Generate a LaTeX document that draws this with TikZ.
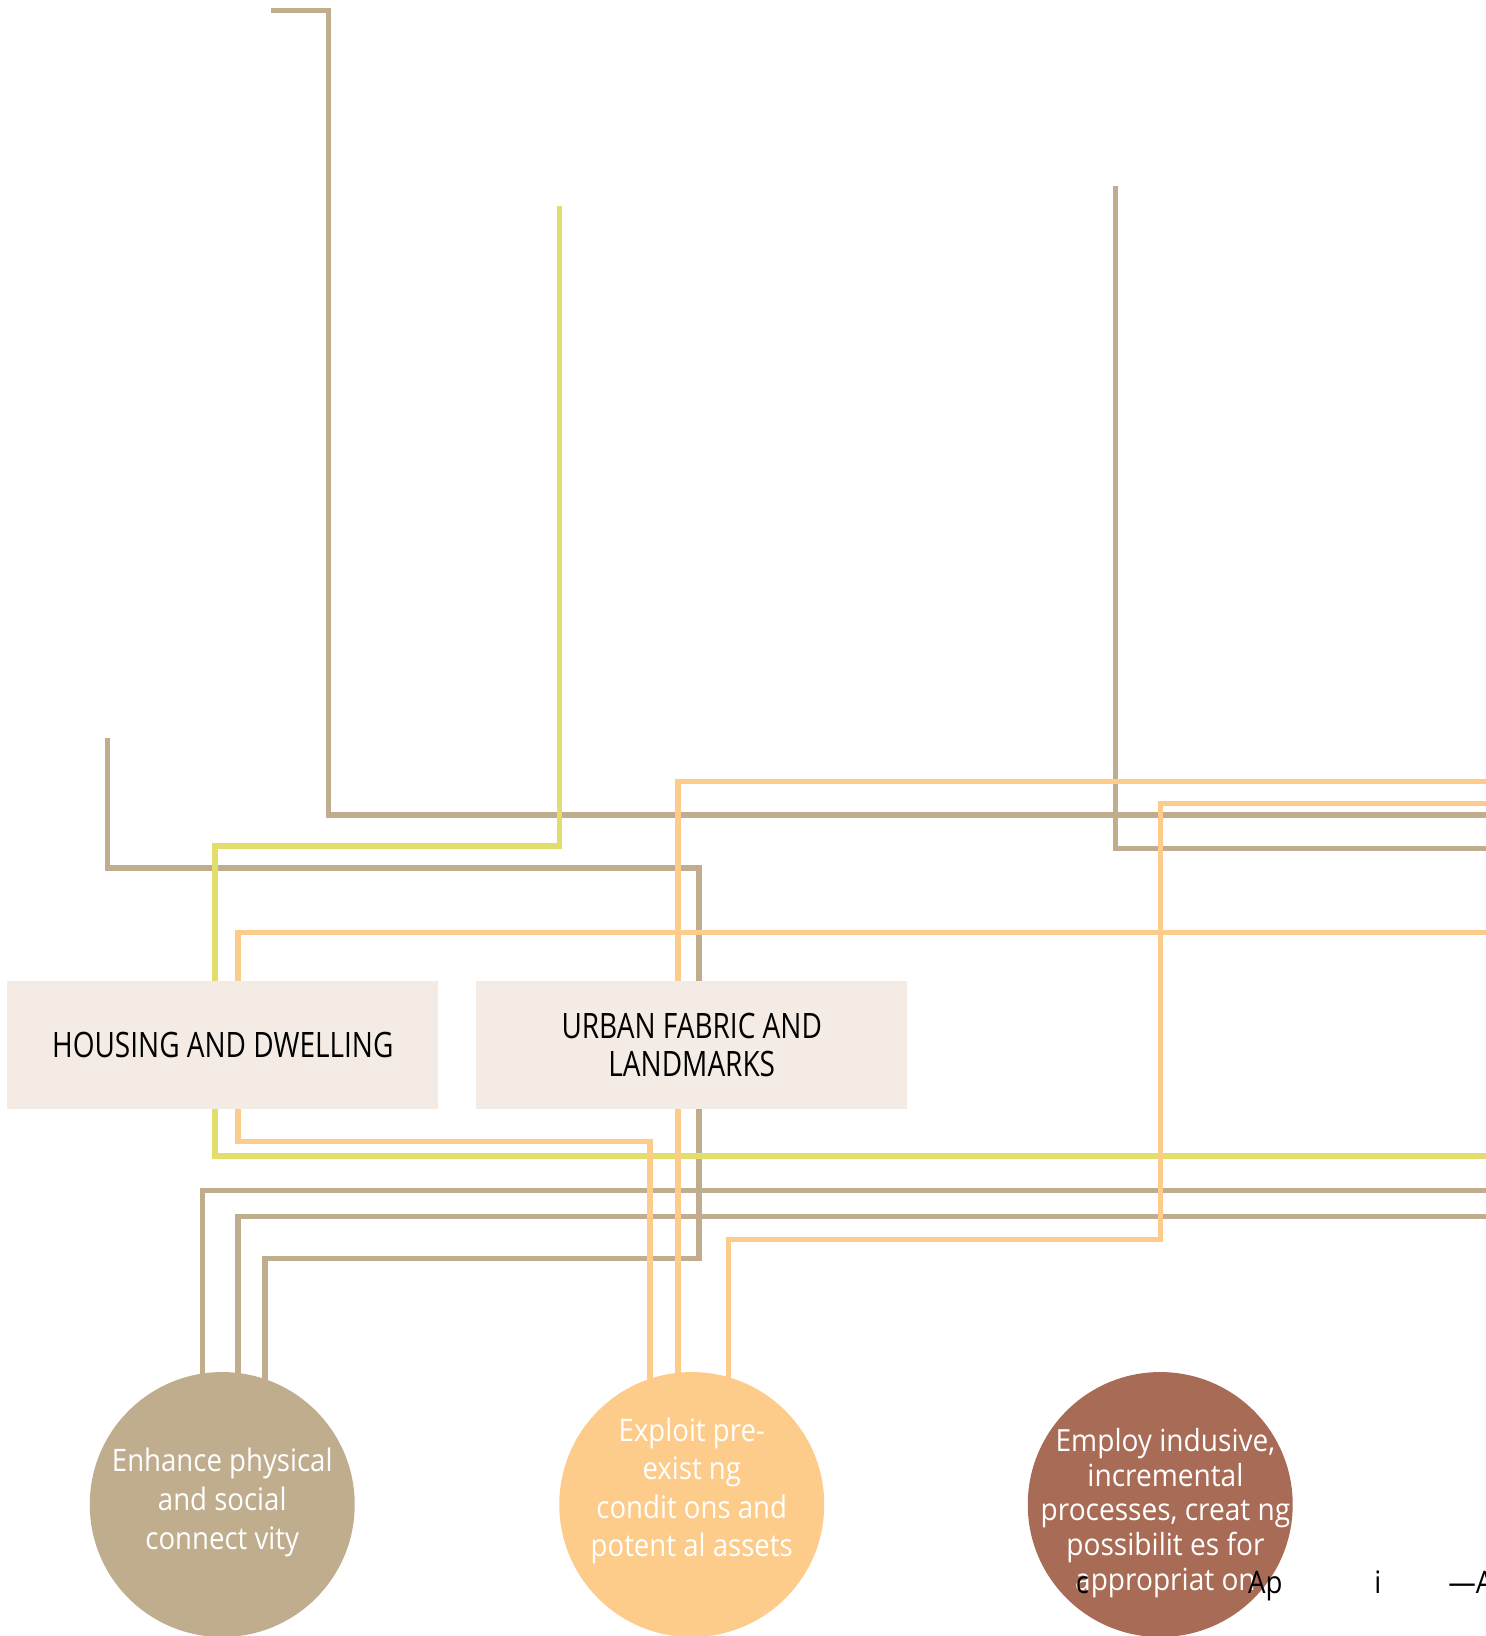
\documentclass[tikz,border=0pt]{standalone}
\usepackage{fontspec}
\setmainfont{Open Sans}
\newfontfamily\boxf[FakeStretch=0.80]{Open Sans}
\newfontfamily\circf[FakeStretch=0.89]{Open Sans}
\newfontfamily\circg[FakeStretch=0.92]{Open Sans}
\usetikzlibrary{backgrounds}
\definecolor{tanc}{HTML}{BFAD8E}
\definecolor{yelc}{HTML}{E3DE6B}
\definecolor{orac}{HTML}{FDCB8A}
\definecolor{brnc}{HTML}{A86B55}
\definecolor{boxc}{HTML}{F3EBE4}
\tikzset{
  conn/.style={line width=5.4pt, line join=miter, line cap=butt},
  tanl/.style={conn, draw=tanc},
  yell/.style={conn, draw=yelc},
  oral/.style={conn, draw=orac},
  catbox/.style={fill=boxc, draw=none, minimum width=431pt, minimum height=128.5pt, inner sep=0pt, align=center, font={\boxf\fontsize{35}{37.6}\selectfont}},
  goal/.style={circle, draw=none, minimum size=265pt, inner sep=0pt},
  gtext/.style={text=white, align=center, inner sep=0pt, font={\circf\fontsize{31}{38.6}\selectfont}},
  gtextb/.style={text=white, align=center, inner sep=0pt, font={\circg\fontsize{30.5}{34.6}\selectfont}},
  stray/.style={text=black, inner sep=0pt, anchor=base west, font={\circf\fontsize{31}{34}\selectfont}},
}
\begin{document}
\begin{tikzpicture}[x=1.0435pt, y=-1.0435pt]
\useasboundingbox (0,0) rectangle (1424,1568);
\clip (0,0) rectangle (1424,1568);

% category boxes
\node[catbox] (housing) at (213.5,1001.5) {HOUSING AND DWELLING};
\node[catbox] (urban) at (663,1001.5) {URBAN FABRIC AND\\LANDMARKS};

% goal circles
\node[goal, fill=tanc] (c1) at (213,1442) {};
\node[goal, fill=orac] (c2) at (663,1442) {};
\node[goal, fill=brnc] (c3) at (1112,1442) {};

% free ends
\coordinate (e1) at (260,10);
\coordinate (e2) at (1069,178);
\coordinate (e3) at (103,707);
\coordinate (e4) at (536,197);
\coordinate (r1) at (1430,781);
\coordinate (r2) at (1430,813);
\coordinate (r3) at (1430,1141);
\coordinate (r4) at (1430,1166);
\coordinate (r5) at (1430,1108);
\coordinate (r6) at (1430,749);
\coordinate (r7) at (1430,770);
\coordinate (r8) at (1430,894);

\begin{scope}[on background layer]
\fill[white] (0,0) rectangle (1424,1568);
% tan
\draw[tanl] (e1) -- (315,10) -- (r1 -| 315,0) -- (r1);
\draw[tanl] (e2) -- (r2 -| e2) -- (r2);
\draw[tanl] (e3) -- (103,832) -- (670,832) -- (urban.north -| 670,0);
\draw[tanl] (urban.south -| 670,0) -- (670,1206) -- (254,1206) -- (c1.center -| 254,0);
\draw[tanl] (r3) -- (194,1141) -- (c1.center -| 194,0);
\draw[tanl] (r4) -- (228,1166) -- (c1.center -| 228,0);
% yellow
\draw[yell] (e4) -- (536,811) -- (206,811) -- (housing.north -| 206,0);
\draw[yell] (housing.south -| 206,0) -- (206,1108) -- (r5);
% orange
\draw[oral] (r6) -- (650,749) -- (urban.north -| 650,0);
\draw[oral] (urban.south -| 650,0) -- (c2.center -| 650,0);
\draw[oral] (r7) -- (1112,770) -- (1112,1188) -- (698,1188) -- (c2.center -| 698,0);
\draw[oral] (r8) -- (228,894) -- (housing.north -| 228,0);
\draw[oral] (housing.south -| 228,0) -- (228,1094) -- (623,1094) -- (c2.center -| 623,0);
\end{scope}

% goal texts
\node[gtext] (g1) at (213,1440) {Enhance physical\\and social\\connect vity};
\node[gtext] (g2) at (663,1429) {Exploit pre-\\exist ng\\condit ons and\\potent al assets};
\node[gtextb] (g3) at (1117,1450) {Employ indusive,\\incremental\\processes, creat ng\\possibilit es for\\appropriat on};

% stray overlapping text
\node[stray] (s1) at (1031,1527) {c};
\node[stray] (s2) at (1196,1527) {Ap};
\node[stray] (s3) at (1317,1527) {i};
\node[stray] (s4) at (1388,1527) {—A};
\end{tikzpicture}
\end{document}
